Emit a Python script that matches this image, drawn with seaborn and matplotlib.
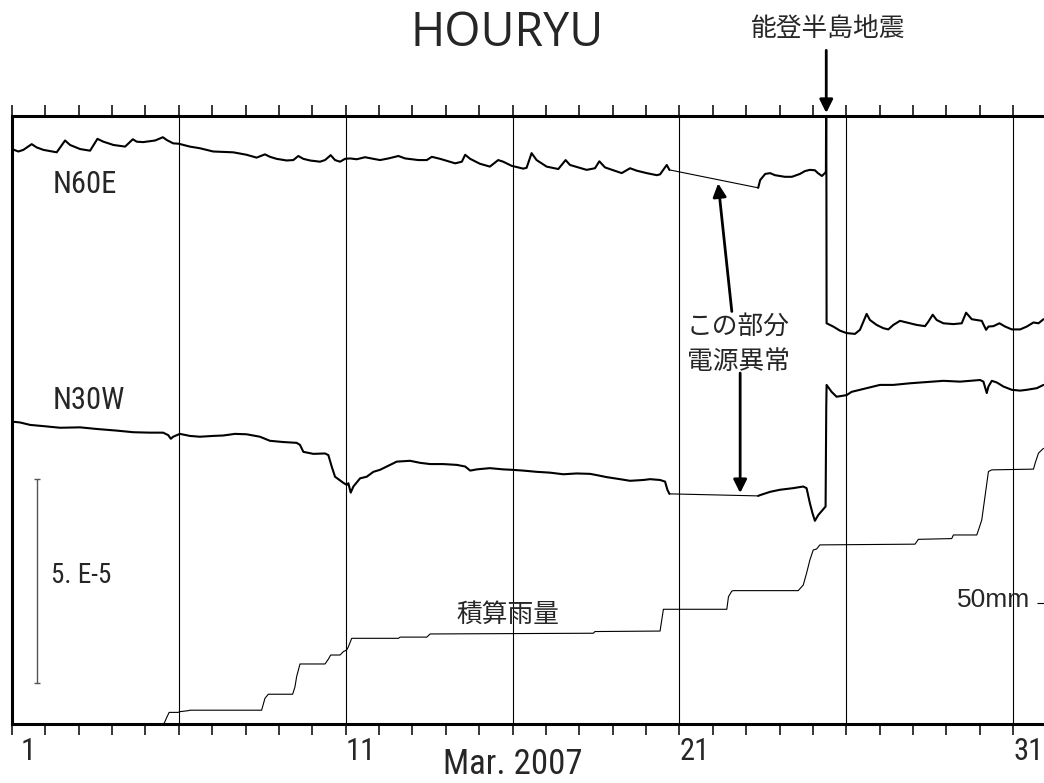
import matplotlib
matplotlib.use("Agg")
import matplotlib.pyplot as plt
from matplotlib.transforms import ScaledTranslation
import seaborn as sns

# ---- tilt records (units of 1e-6, offset per component), day of March 2007 ----
n60e_days_a = [1.00, 1.19, 1.34, 1.59, 1.74, 1.94, 2.34, 2.59, 2.74, 3.04, 3.34, 3.56, 3.74,
               4.04, 4.39, 4.62, 4.74, 4.93, 5.29, 5.52, 5.64, 5.83, 6.00, 6.33, 6.63, 7.03,
               7.63, 8.03, 8.33, 8.58, 8.73, 8.93, 9.23, 9.43, 9.58, 9.73, 9.93, 10.23, 10.38,
               10.55, 10.68, 10.83, 10.98, 11.13, 11.33, 11.58, 11.83, 12.03, 12.28, 12.58,
               12.78, 13.18, 13.43, 13.58, 13.83, 14.28, 14.48, 14.58, 14.73, 15.02, 15.32,
               15.57, 15.72, 15.97, 16.32, 16.42, 16.57, 16.72, 17.02, 17.37, 17.59, 17.72,
               18.22, 18.47, 18.60, 18.77, 19.27, 19.52, 19.72, 20.02, 20.32, 20.42, 20.62, 20.70]
n60e_vals_a = [140.9, 140.3, 140.7, 142.1, 141.3, 140.7, 140.1, 143.0, 141.9, 140.9, 140.5, 143.4, 142.7,
               141.9, 141.5, 143.3, 142.7, 142.6, 143.0, 143.8, 143.1, 142.3, 142.2, 141.5, 141.1, 140.3,
               140.1, 139.5, 138.8, 139.6, 139.0, 138.5, 138.1, 138.2, 139.2, 138.5, 138.1, 137.8, 138.2,
               139.4, 138.2, 137.8, 138.5, 138.6, 138.4, 138.9, 138.5, 138.2, 138.6, 139.2,
               138.6, 138.2, 138.2, 139.0, 138.5, 137.4, 137.8, 139.5, 138.5, 137.3, 136.6,
               138.2, 137.8, 136.8, 136.1, 136.3, 139.9, 138.2, 136.6, 136.0, 138.2, 137.0,
               135.8, 136.2, 137.9, 136.4, 135.0, 136.2, 135.6, 135.0, 134.5, 134.7, 137.0, 135.8]
n60e_days_b = [23.36, 23.42, 23.57, 23.72, 23.86, 24.16, 24.37, 24.61, 24.76, 24.91, 25.06, 25.15,
               25.27, 25.36, 25.39, 25.40, 25.41, 25.61, 25.81, 26.01, 26.26, 26.41, 26.61, 26.71,
               26.91, 27.11, 27.26, 27.41, 27.61, 27.81, 28.11, 28.36, 28.46, 28.59, 28.71, 28.91,
               29.21, 29.46, 29.59, 29.76, 30.06, 30.19, 30.26, 30.41, 30.59, 30.76, 30.96, 31.21,
               31.41, 31.61, 31.76, 31.91]
n60e_vals_b = [131.4, 133.3, 134.8, 135.0, 134.5, 134.1, 134.1, 134.8, 135.5, 135.8, 135.7, 135.0,
               134.3, 135.0, 135.4, 165.0, 98.2, 97.4, 96.4, 95.8, 95.6, 96.6, 100.5, 99.0,
               97.8, 97.0, 96.7, 97.8, 98.8, 98.4, 97.8, 97.5, 98.6, 100.3, 99.0, 98.2,
               98.0, 98.2, 100.8, 99.2, 98.8, 96.6, 97.4, 97.5, 98.2, 97.4, 96.7, 96.7,
               97.4, 98.4, 98.2, 99.2]

n30w_days_a = [1.00, 1.24, 1.54, 1.94, 2.44, 3.04, 3.54, 4.14, 4.64, 5.14, 5.53, 5.68, 5.76, 5.83,
               6.03, 6.33, 6.63, 7.03, 7.33, 7.68, 8.03, 8.43, 8.73, 9.13, 9.53, 9.63, 9.73, 10.03,
               10.38, 10.48, 10.58, 10.68, 10.78, 10.93, 11.03, 11.08, 11.15, 11.23, 11.43, 11.63,
               11.83, 12.03, 12.23, 12.53, 12.93, 13.23, 13.53, 13.92, 14.33, 14.58, 14.73, 14.93,
               15.32, 15.72, 15.97, 16.32, 16.72, 17.12, 17.52, 17.92, 18.32, 18.52, 18.82, 19.22,
               19.52, 19.92, 20.12, 20.42, 20.57, 20.64, 20.70]
n30w_vals_a = [74.1, 73.9, 73.3, 73.0, 72.6, 72.7, 72.3, 71.9, 71.5, 71.4, 71.4, 70.8, 69.9, 70.4,
               71.1, 70.6, 70.4, 70.6, 70.7, 71.1, 71.0, 70.4, 69.4, 69.1, 68.9, 68.4, 66.7, 66.2,
               66.3, 65.9, 63.1, 60.6, 60.0, 59.1, 58.6, 59.0, 56.7, 58.2, 60.2, 60.6,
               61.8, 62.3, 63.1, 64.3, 64.5, 64.0, 63.7, 63.7, 63.5, 63.1, 62.1, 62.4,
               62.7, 62.4, 62.3, 62.1, 61.8, 61.6, 61.2, 61.4, 61.3, 61.0, 60.5, 60.0,
               59.6, 59.8, 60.0, 59.8, 59.4, 57.4, 56.4]
n30w_days_b = [23.36, 23.42, 23.72, 24.01, 24.41, 24.71, 24.81, 24.91, 24.99, 25.06, 25.16, 25.38,
               25.40, 25.41, 25.56, 25.71, 25.86, 26.01, 26.16, 26.41, 26.71, 27.01, 27.41, 27.91,
               28.41, 28.91, 29.41, 30.01, 30.11, 30.21, 30.26, 30.36, 30.51, 30.71, 30.96, 31.21,
               31.41, 31.71, 31.91]
n30w_vals_b = [55.9, 56.1, 56.9, 57.4, 57.8, 58.2, 57.8, 54.1, 51.6, 49.8, 51.2, 53.3,
               77.5, 83.1, 81.4, 80.2, 80.4, 80.6, 81.4, 81.9, 82.5, 83.1, 83.1, 83.5,
               83.8, 84.1, 83.9, 84.3, 83.9, 81.1, 82.7, 84.1, 83.7, 82.7, 81.9, 81.7,
               81.9, 82.3, 83.1]

# ---- cumulative rainfall (mm) ----
rain_days = [1.00, 5.55, 5.64, 5.71, 5.98, 6.03, 6.28, 6.33, 8.48, 8.58, 8.68, 9.41, 9.48, 9.53,
             9.63, 10.38, 10.48, 10.55, 10.83, 10.93, 11.03, 11.08, 11.18, 12.58, 12.63, 13.43,
             13.53, 18.42, 18.47, 20.42, 20.47, 20.52, 22.42, 22.47, 22.57, 22.62, 24.56, 24.71,
             24.81, 24.91, 25.01, 25.11, 25.21, 28.06, 28.16, 29.16, 29.21, 29.91, 29.98, 30.06,
             30.26, 30.36, 31.61, 31.66, 31.76, 31.91]
rain_mm = [0.0, 0.0, 2.8, 4.8, 4.8, 5.1, 5.5, 5.7, 5.7, 10.6, 12.3, 12.3, 15.4, 19.6,
           24.8, 24.8, 26.8, 28.5, 28.5, 29.9, 30.6, 31.9, 35.4, 35.4, 35.9, 35.9,
           37.2, 37.5, 38.2, 38.4, 42.9, 47.4, 47.4, 52.6, 54.9, 55.1, 55.1, 57.4,
           62.3, 67.8, 71.9, 72.3, 74.0, 74.3, 76.3, 76.6, 78.1, 78.1, 80.9, 84.3,
           104.3, 105.0, 105.3, 107.8, 111.9, 113.9]

label_days = [1, 11, 21, 31]
grid_days = [6, 11, 16, 21, 26, 31]
quake_day = 25.40
scale_bar = (10, 60)          # 5.E-5 span on the tilt scale
rain_ref_mm = 50

sns.set_theme(style="white")
NARROW = ["Roboto Condensed", "DejaVu Sans"]
JP = ["Noto Sans CJK JP", "DejaVu Sans"]
plt.rcParams["font.family"] = NARROW

fig = plt.figure(figsize=(10.44, 7.83), dpi=100)
W, H = 1044, 783
ax = fig.add_axes([12 / W, 59 / H, 1034.5 / W, 608 / H])
ax.set_xlim(1, 32)
ax.set_ylim(0, 149)

for d in grid_days:
    ax.axvline(d, color="black", lw=0.8, zorder=1)

kw = dict(ax=ax, sort=False, estimator=None, color="black", legend=False)
sns.lineplot(x=n60e_days_a, y=n60e_vals_a, lw=1.5, **kw)
sns.lineplot(x=n60e_days_b, y=n60e_vals_b, lw=1.5, **kw)
sns.lineplot(x=[n60e_days_a[-1], n60e_days_b[0]], y=[n60e_vals_a[-1], n60e_vals_b[0]], lw=0.8, **kw)
sns.lineplot(x=n30w_days_a, y=n30w_vals_a, lw=1.5, **kw)
sns.lineplot(x=n30w_days_b, y=n30w_vals_b, lw=1.5, **kw)
sns.lineplot(x=[n30w_days_a[-1], n30w_days_b[0]], y=[n30w_vals_a[-1], n30w_vals_b[0]], lw=0.8, **kw)

# scale bar for 5.E-5
ax.plot([1.75, 1.75], list(scale_bar), color="#555555", lw=1.0,
        marker="_", markersize=5, markeredgewidth=1.0)
ax.text(2.17, 36.5, "5. E-5", fontsize=19.5, ha="left", va="center", family=NARROW)

ax.text(2.23, 132.1, "N60E", fontsize=22, ha="left", va="center", family=NARROW)
ax.text(2.23, 79.2, "N30W", fontsize=22, ha="left", va="center", family=NARROW)
ax.text(15.86, 26.7, "積算雨量", fontsize=18.5, ha="center", va="center", family=JP)

# power-failure note
ax.text(22.76, 97.3, "この部分", fontsize=18.5, ha="center", va="center", family=JP)
ax.text(22.76, 88.7, "電源異常", fontsize=18.5, ha="center", va="center", family=JP)
arrow = dict(arrowstyle="-|>", color="black", lw=2.0, mutation_scale=20, shrinkA=0, shrinkB=0)
ax.annotate("", xy=(22.16, 132.5), xytext=(22.57, 101.1), arrowprops=arrow)
ax.annotate("", xy=(22.82, 56.6), xytext=(22.82, 86.0), arrowprops=arrow)

# earthquake marker
ax.annotate("", xy=(quake_day, 1.005), xycoords=("data", "axes fraction"),
            xytext=(quake_day, 1.108), textcoords=("data", "axes fraction"),
            arrowprops=arrow, annotation_clip=False)
ax.text(quake_day + 0.05, 1.143, "能登半島地震", transform=ax.get_xaxis_transform(),
        fontsize=18.5, ha="center", va="center", family=JP, clip_on=False)

# axes frame and ticks
for s in ("left", "top", "bottom"):
    ax.spines[s].set_linewidth(2.2)
    ax.spines[s].set_color("black")
ax.spines["right"].set_visible(False)
ax.set_yticks([])
ax.set_xticks(label_days)
ax.set_xticklabels([str(d) for d in label_days], fontsize=22, family=NARROW)
ax.set_xticks(range(1, 32), minor=True)
ax.tick_params(axis="x", which="both", direction="out", length=8, width=1.1,
               color="black", top=True, bottom=True, labeltop=False, pad=1)
labels = ax.get_xticklabels()
for lab in labels:
    lab.set_ha("left")
labels[0].set_transform(labels[0].get_transform() + ScaledTranslation(6 / 72, 0, fig.dpi_scale_trans))

# rainfall on its own scale
ax2 = ax.twinx()
ax2.set_ylim(0, 251.2)
sns.lineplot(x=rain_days, y=rain_mm, ax=ax2, sort=False, estimator=None,
             color="black", lw=0.8, legend=False)
for s in ax2.spines.values():
    s.set_visible(False)
ax2.set_yticks([rain_ref_mm])
ax2.tick_params(axis="y", direction="in", length=7, width=0.8, color="black",
                labelright=False, right=True, left=False)
ax2.set_ylabel("")
ax2.text(31.51, 51.2, "50mm", fontsize=19, ha="right", va="center",
         family=["Liberation Sans", "DejaVu Sans"])
ax.set_ylabel("")

fig.text(507 / W, 1 - 33 / H, "HOURYU", fontsize=33.5, ha="center", va="center",
         family=["Open Sans", "DejaVu Sans"])
fig.text(513 / W, 1 - 764 / H, "Mar. 2007", fontsize=25, ha="center", va="center",
         family=NARROW)

fig.savefig("out.png", dpi=100)
